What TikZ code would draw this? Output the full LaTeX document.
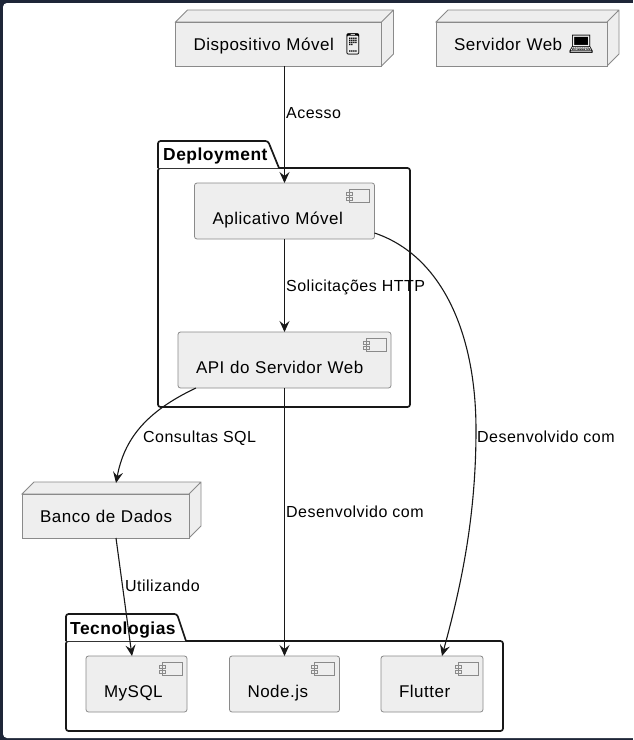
\documentclass[tikz,border=0pt]{standalone}
\usepackage{fontspec}
\setmainfont[LetterSpace=3]{Liberation Sans}
\newfontfamily\emojifont{Noto Emoji}
\usetikzlibrary{arrows.meta, positioning, calc}
\definecolor{framedark}{HTML}{1E2638}
\definecolor{boxfill}{HTML}{EEEEEE}
\definecolor{boxline}{HTML}{8A8A8A}
\definecolor{inkline}{HTML}{181818}
\newcommand{\emojiglyph}[1]{\rlap{\fontsize{21}{20}\emojifont\raisebox{-1.5pt}{#1}}}
\tikzset{
	x=1pt, y=-1pt,
	>={Stealth[length=11pt,width=10pt,inset=4pt]},
	every node/.style={font=\fontsize{17}{20}\selectfont, text=black},
	flow/.style={->, draw=inkline, line width=1.1pt},
	edgetext/.style={anchor=base west, inner sep=0pt, font=\fontsize{16}{20}\selectfont},
	pkgbody/.style={draw=inkline, line width=1.7pt, rounded corners=2.5pt, inner sep=0pt, outer sep=0pt, fill=white},
	pkgtab/.style={anchor=base west, inner sep=0pt, font=\fontsize{17.4}{20}\selectfont\bfseries},
	nodebox/.style={draw=boxline, fill=boxfill, line width=.8pt, inner xsep=18pt, inner ysep=0pt, outer sep=0pt,
		align=left, text height=28pt, text depth=16pt,
		append after command={\pgfextra{
			\draw[draw=boxline, fill=boxfill, line width=.8pt]
			(\tikzlastnode.north west) -- ++(12pt,12pt) -- ([shift={(12pt,12pt)}]\tikzlastnode.north east)
				-- ([shift={(12pt,12pt)}]\tikzlastnode.south east) -- (\tikzlastnode.south east)
				-- (\tikzlastnode.north east) -- cycle
			(\tikzlastnode.north east) -- ++(12pt,12pt);
		}}},
	compbox/.style={draw=boxline, fill=boxfill, line width=.8pt, rounded corners=2.5pt, inner xsep=18pt, inner ysep=0pt, outer sep=0pt,
		align=left, text height=41pt, text depth=15pt,
		path picture={
			\draw[draw=boxline, line width=.7pt, sharp corners, fill=boxfill]
			([shift={(-25pt,-6pt)}]path picture bounding box.north east) rectangle ([shift={(-5pt,-19pt)}]path picture bounding box.north east)
			([shift={(-28pt,-9pt)}]path picture bounding box.north east) rectangle ([shift={(-22pt,-12pt)}]path picture bounding box.north east)
			([shift={(-28pt,-14pt)}]path picture bounding box.north east) rectangle ([shift={(-22pt,-17pt)}]path picture bounding box.north east);
		}}
}

\begin{document}
\begin{tikzpicture}
	\useasboundingbox (0,0) rectangle (633,740);
	\fill[framedark] (0,0) rectangle (633,740);
	\fill[white, rounded corners=4pt] (3,3) rectangle (640,738);

	%packages
	\node[pkgbody, minimum width=252pt, minimum height=239pt] (deploy) at (284,287.5) {};
	\draw[pkgbody] (deploy.north west) -- (158,141) -- (268,141) -- (279,168);
	\node[pkgtab] (deploytab) at (163,160) {Deployment};

	\node[pkgbody, minimum width=437pt, minimum height=90pt] (tech) at (284.5,686) {};
	\draw[pkgbody] (tech.north west) -- (66,614) -- (177,614) -- (186,641);
	\node[pkgtab] (techtab) at (70,634) {Tecnologias};

	%nodes
	\node[nodebox, text width=170pt] (device) at (278.5,44) {Dispositivo Móvel \emojiglyph{📱}};
	\node[nodebox, text width=135pt] (server) at (521.5,44) {Servidor Web \emojiglyph{💻}};
	\node[nodebox, text width=131pt] (db) at (105.5,516) {\mbox{Banco de Dados}};
	\coordinate (dbtop) at (116,483);

	%components
	\node[compbox, text width=144pt] (app) at (284.5,211) {Aplicativo Móvel};
	\node[compbox, text width=177pt] (api) at (284.5,360) {API do Servidor Web};
	\node[compbox, text width=65pt] (mysql) at (136.5,684) {MySQL};
	\node[compbox, text width=74pt] (nodejs) at (284.5,684) {Node.js};
	\node[compbox, text width=66pt] (flutter) at (432,684) {Flutter};

	%connectors
	\draw[flow] (device.south -| app.north) -- (app.north);
	\draw[flow] (app.south) -- (api.north);
	\draw[flow] (api.south) -- (nodejs.north);
	\draw[flow] ([xshift=18pt]api.south west) .. controls (145,412) and (124,440) .. (dbtop);
	\draw[flow] ([xshift=10.5pt]db.south) -- ([xshift=-4.5pt]mysql.north);
	\draw[flow] ([yshift=-22pt]app.east) .. controls (440,255) and (476,330) .. (476,430) .. controls (476,520) and (460,590) .. ([xshift=10pt]flutter.north);

	%labels
	\node[edgetext] (lblaccess) at (286,118) {Acesso};
	\node[edgetext] (lblhttp) at (286,291) {Solicitações HTTP};
	\node[edgetext] (lblsql) at (143,442) {Consultas SQL};
	\node[edgetext] (lblnode) at (286,517) {Desenvolvido com};
	\node[edgetext] (lblflutter) at (477,442) {Desenvolvido com};
	\node[edgetext] (lblusing) at (125,591) {Utilizando};
\end{tikzpicture}
\end{document}
